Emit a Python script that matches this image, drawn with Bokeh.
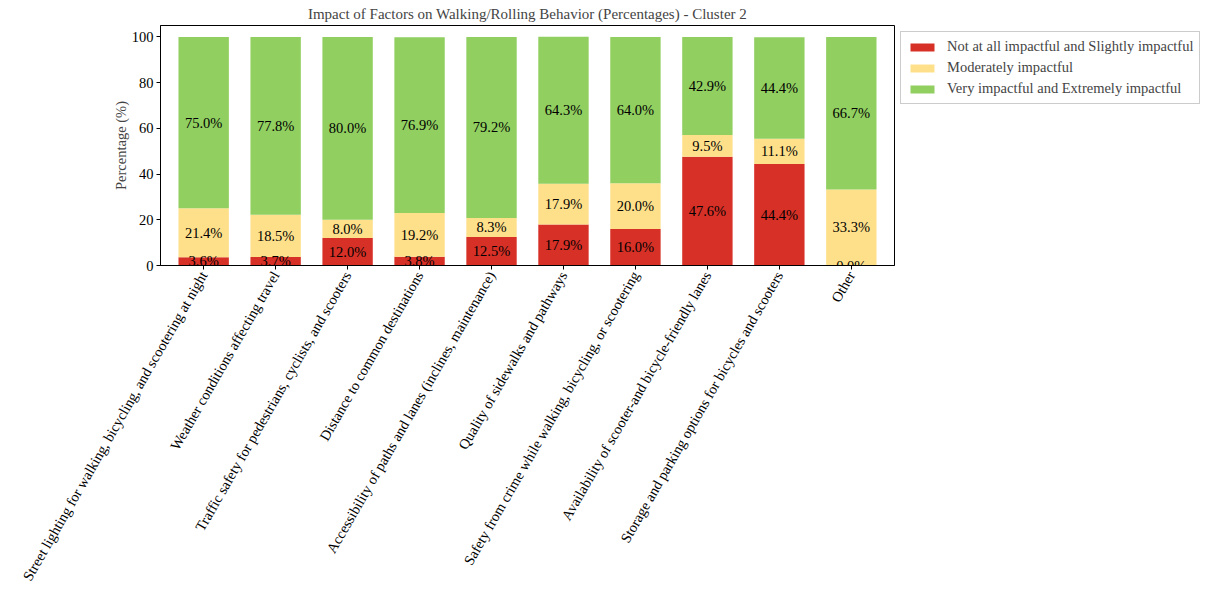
import math
from bokeh.plotting import figure
from bokeh.models import (ColumnDataSource, Legend, LegendItem, FixedTicker, Range1d)
from bokeh.embed import file_html
from bokeh.resources import INLINE
from bokeh.core.properties import value

# ---------------- data ----------------
categories = [
    "Street lighting for walking, bicycling, and scootering at night",
    "Weather conditions affecting travel",
    "Traffic safety for pedestrians, cyclists, and scooters",
    "Distance to common destinations",
    "Accessibility of paths and lanes (inclines, maintenance)",
    "Quality of sidewalks and pathways",
    "Safety from crime while walking, bicycling, or scootering",
    "Availability of scooter-and bicycle-friendly lanes",
    "Storage and parking options for bicycles and scooters",
    "Other",
]
low_vals = [3.6, 3.7, 12.0, 3.8, 12.5, 17.9, 16.0, 47.6, 44.4, 0.0]
mid_vals = [21.4, 18.5, 8.0, 19.2, 8.3, 17.9, 20.0, 9.5, 11.1, 33.3]
high_vals = [75.0, 77.8, 80.0, 76.9, 79.2, 64.3, 64.0, 42.9, 44.4, 66.7]
series_names = [
    "Not at all impactful and Slightly impactful",
    "Moderately impactful",
    "Very impactful and Extremely impactful",
]
colors = ["#d73027", "#fee08b", "#91cf60"]
y_ticks = [0, 20, 40, 60, 80, 100]
title_text = "Impact of Factors on Walking/Rolling Behavior (Percentages) - Cluster 2"
y_label = "Percentage (%)"

FONT = "Liberation Serif"
FS = "14.5px"
XFS = "14.5px"

xs = list(range(len(categories)))
src = ColumnDataSource(dict(x=xs, low=low_vals, mid=mid_vals, high=high_vals))

p = figure(
    frame_width=734, frame_height=240,
    x_range=Range1d(-0.6, len(categories) - 0.4),
    y_range=Range1d(0, 105),
    output_backend="svg", toolbar_location=None,
    min_border_left=160, min_border_top=0, min_border_right=0, min_border_bottom=0,
)
p.background_fill_color = "white"
p.border_fill_color = "white"
p.outline_line_color = "black"
p.outline_line_width = 1

rs = p.vbar_stack(["low", "mid", "high"], x="x", width=0.7, color=colors,
                  line_color=None, source=src)

# segment labels
lx, ly, lt = [], [], []
for i in xs:
    base = 0.0
    for vals in (low_vals, mid_vals, high_vals):
        v = vals[i]
        lx.append(i)
        ly.append(base + v / 2.0)
        lt.append(f"{v:.1f}%")
        base += v
p.text(x=lx, y=ly, text=lt, text_align="center", text_baseline="middle",
       text_font=value(FONT), text_font_size=FS, text_color="black")

# axes
p.xgrid.visible = False
p.ygrid.visible = False
p.xaxis.ticker = FixedTicker(ticks=xs)
p.xaxis.major_label_overrides = {i: c for i, c in zip(xs, categories)}
p.xaxis.major_label_orientation = math.pi / 3
p.yaxis.ticker = FixedTicker(ticks=y_ticks)
for ax in (p.xaxis[0], p.yaxis[0]):
    ax.major_label_text_font = FONT
    ax.major_label_text_font_size = FS
    ax.major_label_text_color = "black"
    ax.major_tick_out = 4
    ax.major_tick_in = 0
    ax.minor_tick_out = 0
    ax.minor_tick_in = 0
    ax.axis_line_color = "black"
    ax.major_tick_line_color = "black"
    ax.major_label_standoff = 3
p.xaxis.major_label_text_font_size = XFS
p.yaxis.axis_label = y_label
p.yaxis.axis_label_text_font = FONT
p.yaxis.axis_label_text_font_size = FS
p.yaxis.axis_label_text_font_style = "normal"
p.yaxis.axis_label_standoff = 0

p.title.text = title_text
p.title.text_font = FONT
p.title.text_font_size = "15px"
p.title.text_font_style = "normal"
p.title.align = "center"
p.title.standoff = 7

legend = Legend(
    items=[LegendItem(label=n, renderers=[r]) for n, r in zip(series_names, rs)],
    location="top_left",
    label_text_font=FONT, label_text_font_size=FS,
    glyph_width=30, glyph_height=10, label_standoff=10,
    spacing=4, padding=6, margin=6,
    border_line_color="#999999", border_line_width=1,
    background_fill_color="white",
)
p.add_layout(legend, "right")

open("out.html", "w").write(file_html(p, INLINE))
